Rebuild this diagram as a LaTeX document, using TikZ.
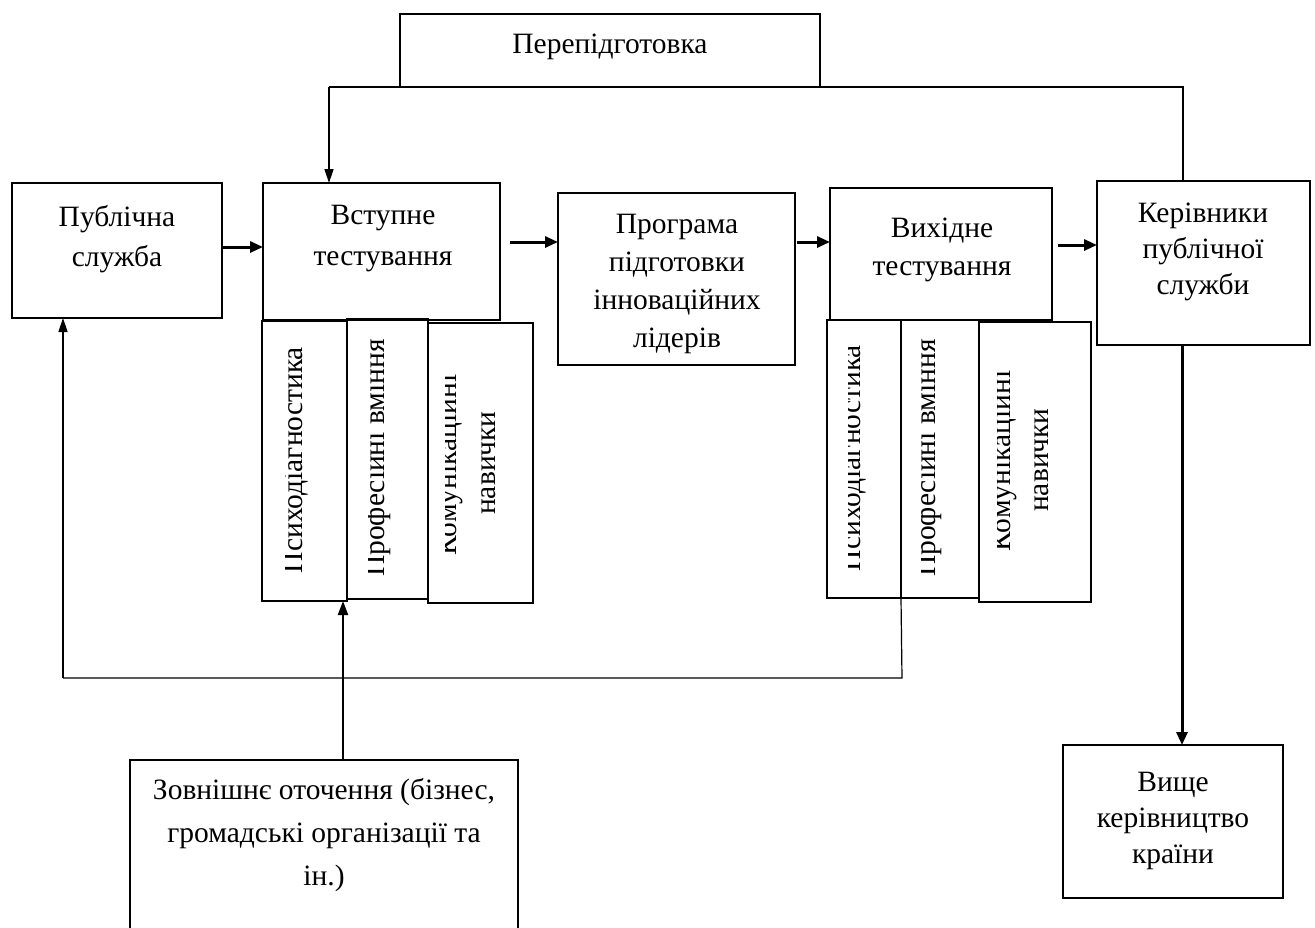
\documentclass[tikz,border=0pt]{standalone}
\usepackage{fontspec}
\setmainfont{Liberation Serif}
\usetikzlibrary{arrows.meta,fit}

\tikzset{
  box/.style={draw, line width=2pt, inner sep=0pt, outer sep=0pt},
  txt/.style={align=center, inner sep=0pt, font=\fontsize{29.5}{#1}\selectfont},
  txt/.default=38,
  vt/.style={rotate=90, anchor=base, inner sep=0pt, font=\fontsize{29.5}{38}\selectfont},
  flow/.style={line width=3pt, -{Triangle[length=13pt,width=11pt]}},
  link/.style={line width=1.2pt},
  linkarrow/.style={line width=1.5pt, -{Triangle[length=14pt,width=9pt]}},
  feed/.style={line width=2.2pt, -{Triangle[length=14pt,width=10pt]}}
}

\begin{document}
\begin{tikzpicture}[x=1pt,y=-1pt]
\useasboundingbox (0,0) rectangle (1315,927);

% main boxes
\node[box, fit={(400,14) (820,87)}] (retrain) {};
\node[txt] (retraint) at (610,47) {Перепідготовка};

\node[box, fit={(12,183) (222,318)}] (pub) {};
\node[txt=40] (pubt) at (117,239) {Публічна\\служба};

\node[box, fit={(263,183) (500,320)}] (ent) {};
\node[txt=41] (entt) at (383,239) {Вступне\\тестування};

\node[box, fit={(558,193) (795,365)}] (prog) {};
\node[txt=38.3] (progt) at (677,284) {Програма\\підготовки\\інноваційних\\лідерів};

\node[box, fit={(830,188) (1052,320)}] (exit) {};
\node[txt=38] (exitt) at (942,250) {Вихідне\\тестування};

\node[box, fit={(1097,181) (1310,345)}] (lead) {};
\node[txt=36] (leadt) at (1203,252) {Керівники\\публічної\\служби};

\node[box, fit={(1063,745) (1283,898)}] (top) {};
\node[txt=36] (topt) at (1173,821) {Вище\\керівництво\\країни};

% open-bottomed box at the lower edge
\coordinate (envtl) at (130,760);
\coordinate (envtr) at (518,760);
\draw[line width=2pt] (130,935) -- (envtl) -- (envtr) -- (518,935);
\node[txt=43] (envt) at (324,835) {Зовнішнє оточення (бізнес,\\громадські організації та\\ін.)};
\coordinate (envin) at (343,760);

% entrance test components
\node[box, fit={(262,321) (347,601)}] (ea) {};
\node[box, fit={(347,319) (428,599)}] (eb) {};
\node[box, fit={(428,323) (533,603)}] (ec) {};
\begin{scope}
  \clip (285.5,321) rectangle (347,601);
  \node[vt] (eat) at (302,460) {Психодіагностика};
\end{scope}
\begin{scope}
  \clip (368.5,319) rectangle (428,599);
  \node[vt] (ebt) at (384,458) {Професійні вміння};
\end{scope}
\begin{scope}
  \clip (445,323) rectangle (533,603);
  \node[vt] (ect1) at (456,465) {Комунікаційні};
  \node[vt] (ect2) at (495,463) {навички};
\end{scope}

% exit test components
\node[box, fit={(827,320) (901,598)}] (xa) {};
\node[box, fit={(901,320) (979,598)}] (xb) {};
\node[box, fit={(979,322) (1091,602)}] (xc) {};
\begin{scope}
  \clip (848,320) rectangle (901,598);
  \node[vt] (xat) at (860,458) {Психодіагностика};
\end{scope}
\begin{scope}
  \clip (921.5,320) rectangle (979,598);
  \node[vt] (xbt) at (935,458) {Професійні вміння};
\end{scope}
\begin{scope}
  \clip (997,322) rectangle (1091,602);
  \node[vt] (xct1) at (1010,461) {Комунікаційні};
  \node[vt] (xct2) at (1048,460) {навички};
\end{scope}

% main flow
\draw[flow] (pub.east |- 0,247) -- (ent.west |- 0,247);
\draw[flow] (510,242) -- (prog.west |- 0,242);
\draw[flow] (797,242) -- (exit.west |- 0,242);
\draw[flow] (1058,245) -- (lead.west |- 0,245);

% retraining loop
\coordinate (rl) at (329,87);
\coordinate (rr) at (1183,87);
\draw[link] (rl) -- (rr) -- (rr |- lead.north);
\draw[linkarrow] (rl) -- (rl |- ent.north);

% feedback from exit testing to the public service
\coordinate (fb1) at (902,678);
\coordinate (fb2) at (63,678);
\draw[link] (xb.south west) -- (fb1) -- (fb2);
\draw[linkarrow] (fb2) -- (fb2 |- pub.south);

% external environment input
\draw[feed] (envin) -- (envin |- ea.south);

% leaders to the top leadership
\draw[flow] (1182,345) -- (1182,745);
\end{tikzpicture}
\end{document}
